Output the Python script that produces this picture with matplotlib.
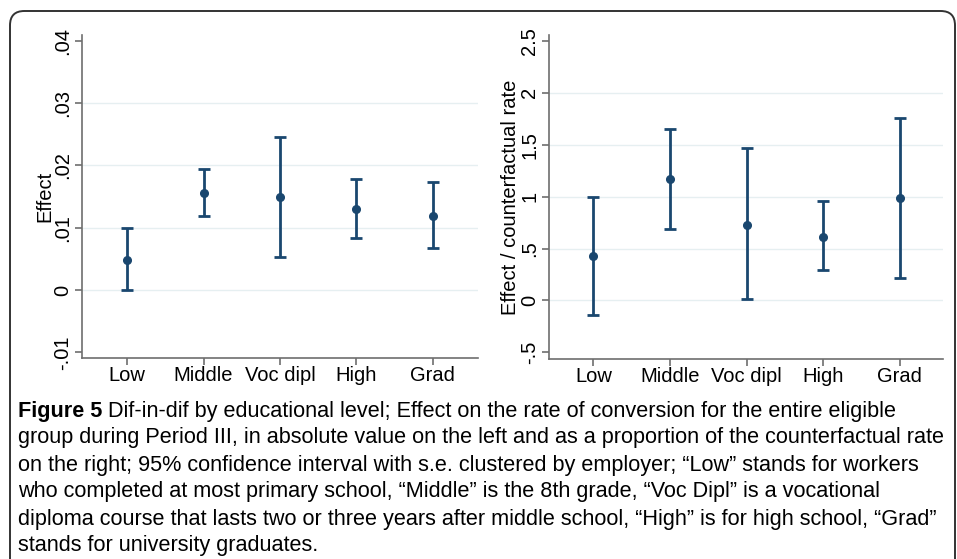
import matplotlib.pyplot as plt
from matplotlib.patches import FancyBboxPatch
import numpy as np

levels = ["Low", "Middle", "Voc dipl", "High", "Grad"]

# left panel: absolute effect
eff = [0.0048, 0.0156, 0.0149, 0.0130, 0.0119]
eff_lo = [0.0000, 0.0118, 0.0053, 0.0083, 0.0067]
eff_hi = [0.0100, 0.0194, 0.0245, 0.0178, 0.0173]

# right panel: effect / counterfactual rate
rel = [0.43, 1.17, 0.73, 0.615, 0.985]
rel_lo = [-0.144, 0.686, 0.01, 0.292, 0.218]
rel_hi = [1.00, 1.651, 1.468, 0.956, 1.757]

left_ticks = [-0.01, 0, 0.01, 0.02, 0.03, 0.04]
left_ticklabels = ["-.01", "0", ".01", ".02", ".03", ".04"]
right_ticks = [-0.5, 0, 0.5, 1, 1.5, 2, 2.5]
right_ticklabels = ["-.5", "0", ".5", "1", "1.5", "2", "2.5"]

caption = [
    "Dif-in-dif by educational level; Effect on the rate of conversion for the entire eligible",
    "group during Period III, in absolute value on the left and as a proportion of the counterfactual rate",
    "on the right; 95% confidence interval with s.e. clustered by employer; \u201cLow\u201d stands for workers",
    "who completed at most primary school, \u201cMiddle\u201d is the 8th grade, \u201cVoc Dipl\u201d is a vocational",
    "diploma course that lasts two or three years after middle school, \u201cHigh\u201d is for high school, \u201cGrad\u201d",
    "stands for university graduates.",
]

navy = "#1a476f"
axis_grey = "#6e6e6e"
plt.rcParams["font.family"] = ["Liberation Sans", "DejaVu Sans"]

fig = plt.figure(figsize=(9.57, 5.59), dpi=100)
W, H = 957, 559

# rounded frame around the figure panel
frame = FancyBboxPatch((10 / W, -0.2), 945 / W, 1 - 11 / H + 0.2,
                       boxstyle="round,pad=0,rounding_size=0.015",
                       transform=fig.transFigure, fill=False,
                       ec="#333333", lw=1.4, mutation_aspect=W / H)
fig.patches.append(frame)


def panel(rect, mean, lo, hi, ticks, ticklabels, ylim, xlim, ylabel, label_x):
    ax = fig.add_axes(rect)
    x = np.arange(1, len(levels) + 1)
    m = np.array(mean)
    yerr = [m - np.array(lo), np.array(hi) - m]
    ax.errorbar(x, m, yerr=yerr, fmt="o", color=navy, ms=5.5, lw=2,
                capsize=4, capthick=2, zorder=3)
    ax.set_xlim(*xlim)
    ax.set_ylim(*ylim)
    ax.set_xticks(x)
    ax.set_xticklabels(levels, fontsize=14.5)
    ax.set_yticks(ticks)
    ax.set_yticklabels(ticklabels, fontsize=14.5, rotation=90, va="center")
    for t in ticks[1:-1]:
        ax.axhline(t, color="#e6eff1", lw=1, zorder=0)
    for s in ["top", "right"]:
        ax.spines[s].set_visible(False)
    for s in ["left", "bottom"]:
        ax.spines[s].set_color(axis_grey)
        ax.spines[s].set_linewidth(1.2)
    ax.tick_params(color=axis_grey, length=5, width=1.2)
    ax.tick_params(axis="x", pad=1)
    ax.tick_params(axis="y", pad=2)
    ax.set_ylabel(ylabel, fontsize=14.5, va="center")
    ax.yaxis.set_label_coords(label_x, 0.5)
    return ax


panel([82 / W, 1 - 358 / H, 396 / W, 323 / H], eff, eff_lo, eff_hi,
      left_ticks, left_ticklabels, (-0.0109, 0.0409), (0.41, 5.59), "Effect",
      (45 - 82) / 396)
panel([549 / W, 1 - 359 / H, 394 / W, 324 / H], rel, rel_lo, rel_hi,
      right_ticks, right_ticklabels, (-0.563, 2.555), (0.42, 5.565),
      "Effect / counterfactual rate", (510 - 549) / 394)

cap_font = ["Liberation Sans", "DejaVu Sans"]
cap_size = 15.6
y0 = 411
for i, line in enumerate(caption):
    yy = 1 - (y0 + 27 * i) / H
    if i == 0:
        t = fig.text(18 / W, yy, "Figure 5 ", fontsize=cap_size, fontweight="bold",
                     family=cap_font, va="center", ha="left")
        fig.canvas.draw()
        bb = t.get_window_extent()
        fig.text(bb.x1 / W, yy, line, fontsize=cap_size, family=cap_font,
                 va="center", ha="left")
    else:
        fig.text(18 / W, yy, line, fontsize=cap_size, family=cap_font,
                 va="center", ha="left")

fig.savefig("out.png", dpi=100)
